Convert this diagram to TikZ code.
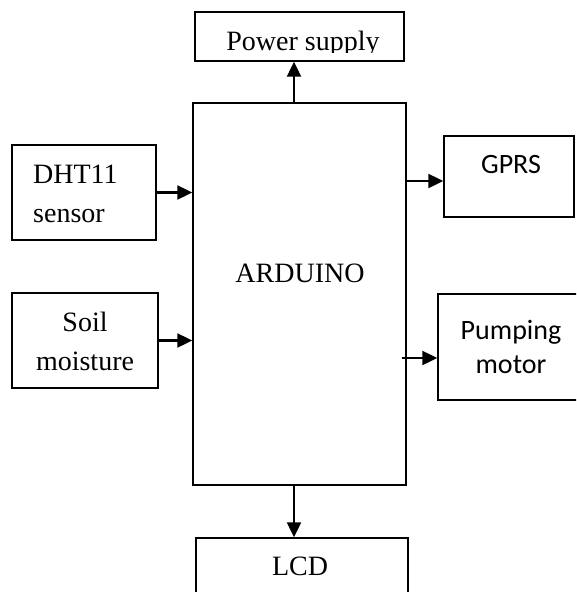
\documentclass[tikz,border=0pt]{standalone}
\usepackage{fontspec}
\setmainfont{Liberation Serif}
\newfontfamily\calibri{Carlito}
\usetikzlibrary{arrows.meta, positioning}

\begin{document}
\begin{tikzpicture}[x=1pt, y=-1pt,
        blk/.style={draw, line width=1.4pt, inner sep=0pt},
        arr/.style={line width=2.2pt, -{Triangle[length=15pt, width=14pt]}},
        lbl/.style={font=\fontsize{28}{39}\selectfont, inner sep=0pt},
        sanslbl/.style={font=\calibri\fontsize{28}{34}\selectfont, inner sep=0pt}
    ]
        \clip (0,0) rectangle (576,592);
        % Blocks
        \node[blk, minimum width=213pt, minimum height=382pt] (ard) at (299.5,294) {};
        \node[blk, minimum width=209pt, minimum height=49pt] (pwr) at (299.5,36.5) {};
        \node[blk, minimum width=144pt, minimum height=95pt] (dht) at (84,192.5) {};
        \node[blk, minimum width=146pt, minimum height=95pt] (soil) at (85,340.5) {};
        \node[blk, minimum width=130pt, minimum height=81pt] (gprs) at (509,176.5) {};
        \node[blk, minimum width=146pt, minimum height=106pt] (pump) at (511,347) {};
        \node[blk, minimum width=212pt, minimum height=72pt] (lcd) at (302,574) {};

        % Texts
        \begin{scope}
            \clip (pwr.north west) rectangle ([yshift=9pt]pwr.south east);
            \node[lbl, anchor=base] (pwrtxt) at (303,50) {Power supply};
        \end{scope}
        \node[lbl, anchor=base] (ardtxt) at (300,282) {ARDUINO};
        \node[lbl, align=left, anchor=base west] (dhttxt) at (33,222) {DHT11\\sensor};
        \node[lbl, align=center, anchor=base] (soiltxt) at (85,370) {Soil\\moisture};
        \node[sanslbl, anchor=base] (gprstxt) at (511,173) {GPRS};
        \node[sanslbl, align=center, anchor=base] (pumptxt) at (511,373) {Pumping\\motor};
        \node[lbl, anchor=base] (lcdtxt) at (300,575) {LCD};

        % Connections
        \draw[arr] ([xshift=-5.5pt]ard.north) -- ([xshift=-5.5pt]ard.north |- pwr.south);
        \draw[arr] ([xshift=-5.5pt]ard.south) -- ([xshift=-5.5pt]ard.south |- lcd.north);
        \draw[arr] (dht.east) -- (dht.east -| ard.west);
        \draw[arr] (soil.east) -- (soil.east -| ard.west);
        \draw[arr] ([yshift=-4.5pt]gprs.west -| ard.east) -- ([yshift=-4.5pt]gprs.west);
        \draw[arr] ([xshift=-5pt, yshift=-11pt]pump.west -| ard.east) -- ([yshift=-11pt]pump.west);
    \end{tikzpicture}
\end{document}
